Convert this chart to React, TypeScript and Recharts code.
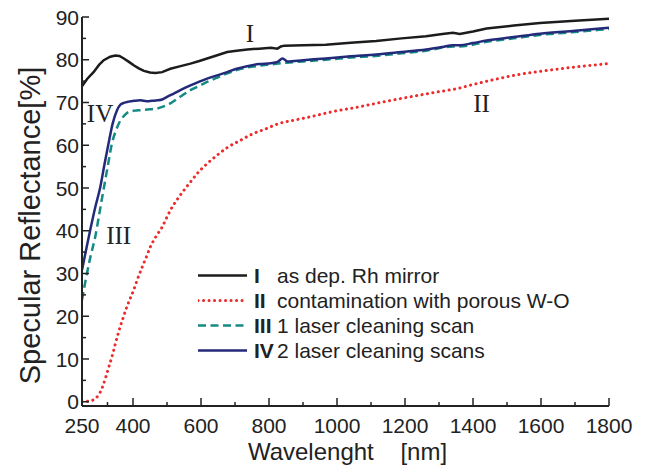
import React from "react";
import { LineChart, Line, XAxis, YAxis, Legend, ReferenceDot, Label } from "recharts";

// wavelength [nm] / reflectance [%]
const mirrorNm = [250, 265, 284, 300, 314, 333, 348, 360, 373, 388, 402, 417, 432, 450, 466, 486, 498, 510, 540, 569, 595, 618, 650, 677, 705, 736, 771, 805, 825, 835, 845, 900, 967, 1040, 1115, 1190, 1262, 1310, 1341, 1361, 1400, 1440, 1520, 1597, 1700, 1800];
const mirrorR = [73.8, 75.5, 77.1, 78.8, 79.9, 80.7, 81.0, 80.9, 80.3, 79.5, 78.7, 78.0, 77.4, 77.0, 76.9, 77.1, 77.5, 77.9, 78.5, 79.1, 79.7, 80.3, 81.1, 81.8, 82.1, 82.4, 82.6, 82.8, 82.6, 83.1, 83.3, 83.4, 83.5, 84.0, 84.4, 85.0, 85.5, 86.0, 86.3, 86.0, 86.6, 87.3, 88.0, 88.6, 89.1, 89.6];

const contamNm = [250, 265, 279, 290, 299, 309, 319, 328, 338, 348, 358, 370, 382, 392, 402, 412, 427, 440, 451, 468, 486, 498, 510, 530, 550, 570, 589, 618, 648, 680, 717, 750, 786, 830, 870, 918, 990, 1066, 1140, 1213, 1290, 1356, 1400, 1470, 1538, 1600, 1700, 1800];
const contamR = [0, 0.1, 0.3, 0.8, 1.6, 3.2, 5.5, 7.9, 10.5, 13.5, 16.4, 19.4, 22.2, 24.2, 26.1, 28.4, 31.5, 34.0, 36.2, 38.7, 40.9, 42.9, 44.8, 47.3, 49.5, 51.5, 53.4, 55.7, 57.7, 59.6, 61.2, 62.6, 63.7, 65.1, 65.8, 66.6, 67.9, 69.0, 70.2, 71.3, 72.4, 73.3, 74.2, 75.5, 76.6, 77.3, 78.3, 79.1];

const oneScanNm = [250, 264, 276, 289, 301, 314, 326, 338, 350, 363, 375, 387, 405, 422, 450, 471, 490, 510, 540, 569, 595, 618, 650, 677, 705, 736, 771, 805, 850, 900, 967, 1040, 1115, 1190, 1262, 1341, 1361, 1440, 1520, 1597, 1700, 1800];
const oneScanR = [23.8, 29.8, 34.3, 38.6, 44.0, 49.9, 55.2, 60.4, 63.5, 65.8, 67.0, 67.8, 68.1, 68.2, 68.4, 68.6, 69.1, 69.8, 71.4, 72.9, 73.9, 74.8, 75.9, 76.8, 77.6, 78.2, 78.6, 78.9, 79.3, 79.6, 80.0, 80.5, 80.9, 81.5, 82.1, 83.1, 83.1, 84.2, 85.0, 85.8, 86.5, 87.2];

const twoScanNm = [250, 262, 274, 289, 304, 316, 328, 340, 353, 363, 373, 387, 405, 422, 440, 456, 472, 486, 500, 520, 545, 569, 595, 618, 650, 677, 705, 736, 771, 805, 825, 840, 854, 900, 967, 1040, 1115, 1190, 1262, 1310, 1341, 1361, 1400, 1440, 1520, 1597, 1700, 1800];
const twoScanR = [30.8, 35.5, 40.1, 45.5, 50.3, 55.5, 60.4, 65.0, 68.2, 69.5, 69.9, 70.2, 70.4, 70.5, 70.3, 70.4, 70.5, 70.7, 71.3, 72.1, 73.1, 74.0, 74.9, 75.6, 76.4, 77.1, 77.9, 78.5, 79.0, 79.2, 79.5, 80.3, 79.6, 79.9, 80.3, 80.8, 81.2, 81.8, 82.4, 83.0, 83.4, 83.4, 83.9, 84.5, 85.3, 86.1, 86.8, 87.5];

const xMajor = [250, 400, 600, 800, 1000, 1200, 1400, 1600, 1800];
const xMinor = [325, 500, 700, 900, 1100, 1300, 1500, 1700];
const yMajor = [0, 10, 20, 30, 40, 50, 60, 70, 80, 90];
const yMinor = [5, 15, 25, 35, 45, 55, 65, 75, 85];

const numerals = ["I", "II", "III", "IV"];
const legendNames = ["as dep. Rh mirror", "contamination with porous W-O", "1 laser cleaning scan", "2 laser cleaning scans"];

const SANS = "'Liberation Sans', Arial, Helvetica, sans-serif";
const SERIF = "'Liberation Serif', 'Times New Roman', serif";
const AXIS = "#222";

const colors = ["#1c1c1c", "#ee2b2b", "#138a84", "#232a7a"];
const dashes = [undefined, "0.1 5.4", "8 4.5", undefined];
const widths = [2.5, 3, 2.5, 2.5];

const toPoints = (nm: number[], r: number[]) => nm.map((v, i) => ({ nm: v, r: r[i] }));
const series = [
  toPoints(mirrorNm, mirrorR),
  toPoints(contamNm, contamR),
  toPoints(oneScanNm, oneScanR),
  toPoints(twoScanNm, twoScanR),
];

const xTicks = [...xMajor, ...xMinor].sort((a, b) => a - b);
const yTicks = [...yMajor, ...yMinor].sort((a, b) => a - b);

function BottomTick(props: any) {
  const { x, y, payload } = props;
  const major = xMajor.includes(payload.value);
  return (
    <g>
      <line x1={x} x2={x} y1={y} y2={y - (major ? 8 : 4)} stroke={AXIS} strokeWidth={1.5} />
      {major && (
        <text x={x} y={y + 27} textAnchor="middle" fontSize={21} fill="#222" fontFamily={SANS}>
          {payload.value}
        </text>
      )}
    </g>
  );
}

function TopTick(props: any) {
  const { x, y, payload } = props;
  const major = xMajor.includes(payload.value);
  return <line x1={x} x2={x} y1={y} y2={y + (major ? 8 : 4)} stroke={AXIS} strokeWidth={1.5} />;
}

function LeftTick(props: any) {
  const { x, y, payload } = props;
  const major = yMajor.includes(payload.value);
  return (
    <g>
      <line x1={x} x2={x + (major ? 7 : 4)} y1={y} y2={y} stroke={AXIS} strokeWidth={1.5} />
      {major && (
        <text x={x - 3} y={y} dy="0.36em" textAnchor="end" fontSize={21} fill="#222" fontFamily={SANS}>
          {payload.value}
        </text>
      )}
    </g>
  );
}

function LegendBox() {
  return (
    <div style={{ fontFamily: SANS, fontSize: 21, color: "#222", lineHeight: "25px" }}>
      {numerals.map((n, i) => (
        <div key={n} style={{ display: "flex", alignItems: "center", height: 25, whiteSpace: "nowrap" }}>
          <svg width={56} height={25}>
            <line
              x1={0}
              x2={49}
              y1={12.5}
              y2={12.5}
              stroke={colors[i]}
              strokeWidth={widths[i]}
              strokeDasharray={dashes[i]}
              strokeLinecap={i === 1 ? "round" : "butt"}
            />
          </svg>
          <span style={{ fontWeight: "bold", width: 23, display: "inline-block" }}>{n}</span>
          <span>{legendNames[i]}</span>
        </div>
      ))}
    </div>
  );
}

const annotations = [
  { text: "I", nm: 744, r: 86.2 },
  { text: "IV", nm: 303, r: 67.5 },
  { text: "III", nm: 358, r: 39 },
  { text: "II", nm: 1425, r: 69.8 },
];

export default function App() {
  return (
    <div style={{ position: "absolute", left: 0, top: 0, background: "#fff" }}>
      <LineChart width={656} height={470} margin={{ top: 17, right: 47, bottom: 34, left: 0 }}>
        <XAxis
          xAxisId="b"
          dataKey="nm"
          type="number"
          domain={[250, 1800]}
          ticks={xTicks}
          interval={0}
          height={30}
          tickSize={0}
          tickMargin={0}
          tickLine={false}
          tick={BottomTick}
          axisLine={{ stroke: AXIS, strokeWidth: 2 }}
          allowDataOverflow
        >
          <Label
            content={(p: any) => {
              const vb = p.viewBox;
              return (
                <text x={vb.x + vb.width / 2 + 2} y={vb.y + 54} textAnchor="middle" fontSize={24} fill="#222" fontFamily={SANS}>
                  {"Wavelenght\u00a0\u00a0\u00a0\u00a0[nm]"}
                </text>
              );
            }}
          />
        </XAxis>
        <XAxis
          xAxisId="t"
          dataKey="nm"
          type="number"
          orientation="top"
          domain={[250, 1800]}
          ticks={xTicks}
          interval={0}
          height={0}
          tickSize={0}
          tickMargin={0}
          tickLine={false}
          tick={TopTick}
          axisLine={{ stroke: AXIS, strokeWidth: 2 }}
          allowDataOverflow
        />
        <YAxis
          yAxisId="l"
          type="number"
          domain={[-1, 90]}
          ticks={yTicks}
          interval={0}
          width={82}
          tickSize={0}
          tickMargin={0}
          tickLine={false}
          tick={LeftTick}
          axisLine={{ stroke: AXIS, strokeWidth: 2 }}
          allowDataOverflow
        >
          <Label
            content={(p: any) => {
              const vb = p.viewBox;
              const cx = vb.x + 40;
              const cy = vb.y + vb.height / 2 + 14;
              return (
                <text x={cx} y={cy} textAnchor="middle" fontSize={29} fill="#222" fontFamily={SANS} transform={`rotate(-90 ${cx} ${cy})`}>
                  Specular Reflectance[%]
                </text>
              );
            }}
          />
        </YAxis>
        <YAxis
          yAxisId="r"
          orientation="right"
          type="number"
          domain={[-1, 90]}
          width={0}
          tick={false}
          tickLine={false}
          axisLine={{ stroke: AXIS, strokeWidth: 2 }}
        />
        {series.map((data, i) => (
          <Line
            key={numerals[i]}
            xAxisId="b"
            yAxisId="l"
            data={data}
            dataKey="r"
            type={i === 0 ? "linear" : "monotone"}
            stroke={colors[i]}
            strokeWidth={widths[i]}
            strokeDasharray={dashes[i]}
            strokeLinecap={i === 1 ? "round" : "butt"}
            dot={false}
            activeDot={false}
            isAnimationActive={false}
          />
        ))}
        {annotations.map((a) => (
          <ReferenceDot
            key={a.text}
            xAxisId="b"
            yAxisId="l"
            x={a.nm}
            y={a.r}
            r={0}
            stroke="none"
            label={{ value: a.text, position: "center", fontSize: 25, fontFamily: SERIF, fill: "#222" }}
          />
        ))}
        <Legend
          layout="vertical"
          verticalAlign="middle"
          align="center"
          content={<LegendBox />}
          wrapperStyle={{ left: 198, top: 262.5, width: 420, height: 100 }}
        />
      </LineChart>
    </div>
  );
}
